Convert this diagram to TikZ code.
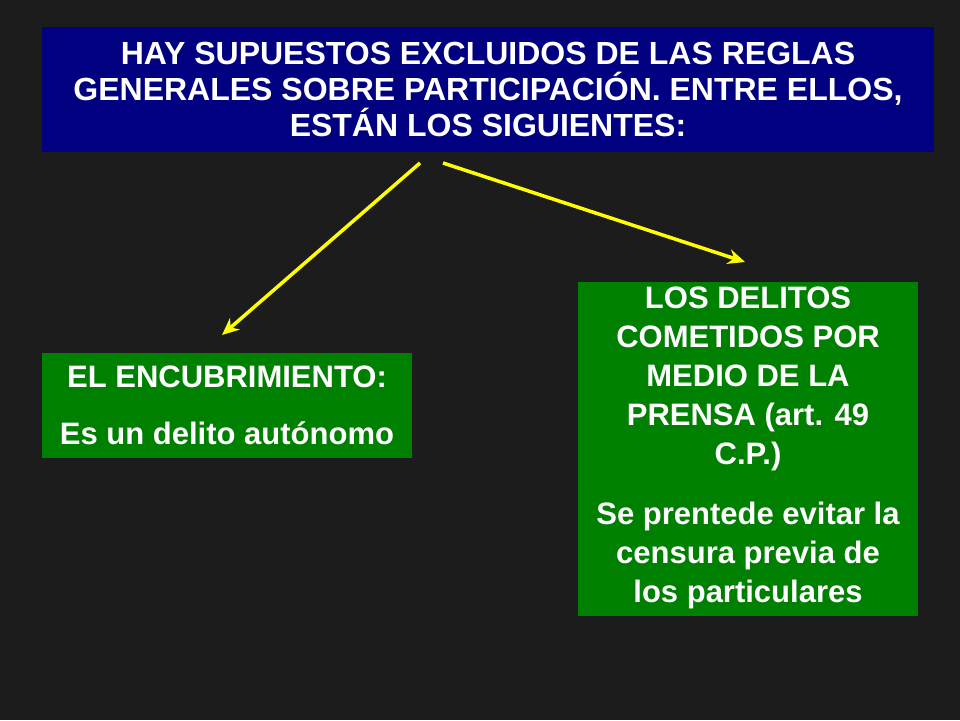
\documentclass[tikz,border=0pt]{standalone}
\usepackage{fontspec}
\setmainfont{Liberation Sans}
\usetikzlibrary{arrows.meta}
\definecolor{bg}{HTML}{1C1C1C}
\definecolor{navy}{HTML}{000080}
\definecolor{grn}{HTML}{008000}
\definecolor{yel}{HTML}{FFFF00}
\begin{document}
\begin{tikzpicture}[x=1pt,y=-1pt,
  box/.style={draw=none,inner sep=0pt,align=center,text=white},
  titlebox/.style={box,fill=navy,minimum width=892pt,minimum height=125pt,
    font={\bfseries\fontsize{32}{36}\selectfont}},
  greenbox/.style={box,fill=grn,font={\bfseries\fontsize{31}{39}\selectfont}},
  arr/.style={yel,line width=3.5pt,-{Stealth[length=17pt,width=15pt]}}]
\fill[bg] (0,0) rectangle (960,720);
\useasboundingbox (0,0) rectangle (960,720);
\node[titlebox] (title) at (488,89.5) {%
  HAY SUPUESTOS EXCLUIDOS DE LAS REGLAS\\
  GENERALES SOBRE PARTICIPACIÓN. ENTRE ELLOS,\\
  ESTÁN LOS SIGUIENTES:};
\node[greenbox,minimum width=370pt,minimum height=105pt] (left) at (227,405.5) {%
  EL ENCUBRIMIENTO:\\[18pt]
  Es un delito autónomo};
\node[greenbox,minimum width=340pt,minimum height=334pt,text depth=8pt] (right) at (748,449) {%
  LOS DELITOS\\
  COMETIDOS POR\\
  MEDIO DE LA\\
  PRENSA (art. 49\\
  C.P.)\\[21pt]
  Se prentede evitar la\\
  censura previa de\\
  los particulares};
\coordinate (s1) at (420,163);
\coordinate (e1) at (222,335);
\coordinate (s2) at (443,163);
\coordinate (e2) at (745,262);
\draw[arr] (s1) -- (e1);
\draw[arr] (s2) -- (e2);
\end{tikzpicture}
\end{document}
